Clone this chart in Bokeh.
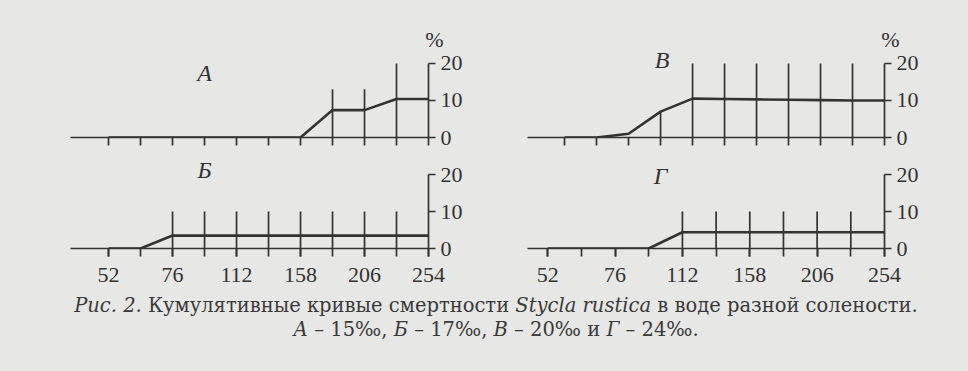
from bokeh.plotting import figure
from bokeh.layouts import row, column
from bokeh.models import FixedTicker, Label, Div, Range1d
from bokeh.embed import file_html
from bokeh.resources import INLINE

# ---- data ----
TICK_INDEX = list(range(11))                      # observation points along the time axis
HOUR_LABELS = ["52", "76", "112", "158", "206", "254"]   # labels on every second point
PCT_TICKS = [0, 10, 20]

# cumulative mortality curves, %
MORT_A = [0, 0, 0, 0, 0, 0, 0, 7.4, 7.4, 10.4, 10.4]          # А - 15‰
MORT_V = [0, 0, 1, 7, 10.5, 10.4, 10.3, 10.2, 10.1, 10, 10]   # В - 20‰
MORT_B = [0, 0, 3.5, 3.5, 3.5, 3.5, 3.5, 3.5, 3.5, 3.5, 3.5]  # Б - 17‰
MORT_G = [0, 0, 0, 0, 4.4, 4.4, 4.4, 4.4, 4.4, 4.4, 4.4]      # Г - 24‰

# heights of the vertical marks at each point (0 = only a short tick)
MARK_A = [0, 0, 0, 0, 0, 0, 0, 13, 13, 20, 0]
MARK_V = [0, 0, 0, 7, 20, 20, 20, 20, 20, 20, 0]
MARK_B = [0, 0, 10, 10, 10, 10, 10, 10, 10, 10, 0]
MARK_G = [0, 0, 0, 0, 10, 10, 10, 10, 10, 10, 0]

BG = "#e7e7e5"
INK = "#333333"
SERIF = "Liberation Serif"


def panel(values, marks, letter, letter_x, letter_y, x_start, y_end,
          width, height, b_left, b_right, b_top, b_bottom, show_labels, show_pct):
    p = figure(width=width, height=height,
               x_range=Range1d(x_start, 10), y_range=Range1d(0, y_end),
               output_backend="svg", toolbar_location=None,
               x_axis_location="below", y_axis_location="right",
               min_border_left=b_left, min_border_right=b_right,
               min_border_top=b_top, min_border_bottom=b_bottom)
    p.outline_line_color = None
    p.grid.visible = False
    p.background_fill_color = BG
    p.border_fill_color = BG

    xa = p.xaxis[0]
    if show_labels:
        labelled = TICK_INDEX[::2]
        xa.ticker = FixedTicker(ticks=labelled, minor_ticks=TICK_INDEX)
        xa.major_label_overrides = dict(zip(labelled, HOUR_LABELS))
    else:
        xa.ticker = FixedTicker(ticks=[], minor_ticks=TICK_INDEX)
    xa.major_tick_in = 0
    xa.major_tick_out = 8
    xa.minor_tick_in = 0
    xa.minor_tick_out = 8
    xa.axis_line_color = INK
    xa.axis_line_width = 1.7
    xa.major_tick_line_color = INK
    xa.major_tick_line_width = 1.7
    xa.minor_tick_line_color = INK
    xa.minor_tick_line_width = 1.7
    xa.major_label_text_font = SERIF
    xa.major_label_text_font_size = "22px"
    xa.major_label_text_color = INK
    xa.major_label_standoff = 11

    ya = p.yaxis[0]
    ya.ticker = FixedTicker(ticks=PCT_TICKS)
    ya.bounds = (0, 20)
    ya.major_tick_in = 0
    ya.major_tick_out = 7
    ya.minor_tick_in = 0
    ya.minor_tick_out = 0
    ya.axis_line_color = INK
    ya.axis_line_width = 1.7
    ya.major_tick_line_color = INK
    ya.major_tick_line_width = 1.7
    ya.major_label_text_font = SERIF
    ya.major_label_text_font_size = "22px"
    ya.major_label_text_color = INK
    ya.major_label_standoff = 5

    xs = [i for i, m in zip(TICK_INDEX, marks) if m > 0]
    tops = [m for m in marks if m > 0]
    p.segment(x0=xs, y0=[0] * len(xs), x1=xs, y1=tops,
              line_color=INK, line_width=1.7)
    p.line(TICK_INDEX, values, line_color=INK, line_width=2.6,
           line_join="round")

    p.add_layout(Label(x=letter_x, y=letter_y, text=letter,
                       text_font=SERIF, text_font_style="italic",
                       text_font_size="24px", text_color=INK,
                       text_align="center", text_baseline="middle"))
    if show_pct:
        p.title.text = "%"
        p.title.align = "right"
        p.title.offset = -15
        p.title.standoff = -2
        p.title.text_font = SERIF
        p.title.text_font_style = "normal"
        p.title.text_font_size = "22px"
        p.title.text_color = INK
    return p


pA = panel(MORT_A, MARK_A, "А", 3.0, 17.3, -1.19, 23.5, 484, 150, 70, 56, 50, 13, False, True)
pV = panel(MORT_V, MARK_V, "В", 3.05, 20.8, -1.16, 23.5, 484, 150, 43, 84, 50, 13, False, True)
pB = panel(MORT_B, MARK_B, "Б", 3.0, 21.3, -1.19, 26, 484, 146, 70, 56, 2, 48, True, False)
pG = panel(MORT_G, MARK_G, "Г", 3.35, 19.6, -0.6, 26, 484, 146, 43, 84, 2, 48, True, False)

caption_html = (
    '<div style="width: 968px; box-sizing: border-box; position: relative; top: -7px;'
    ' font-family: \'DejaVu Serif\'; font-size: 19.5px; line-height: 24px;'
    ' text-align: center; color: #3a3a3a; padding-left: 14px;">'
    '<i>Рис. 2.</i> Кумулятивные кривые смертности <i>Stycla rustica</i>'
    ' в воде разной солености.<br>'
    '<i>А</i> – 15‰, <i>Б</i> – 17‰, <i>В</i> – 20‰ и <i>Г</i> – 24‰.</div>'
)
caption = Div(text=caption_html, width=968, height=75)

layout = column(row(pA, pV), row(pB, pG), caption)
layout.styles = {"background-color": BG}

html = file_html(layout, INLINE)
html = html.replace("<head>", "<head><style>html, body { background: %s; }</style>" % BG, 1)
open("out.html", "w").write(html)
